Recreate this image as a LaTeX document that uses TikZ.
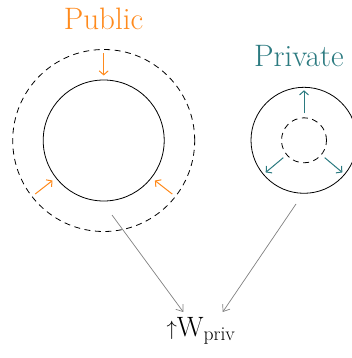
\documentclass[tikz,border=0pt]{standalone}
\usetikzlibrary{arrows.meta}
\definecolor{puborange}{HTML}{FF8A1C}
\definecolor{privteal}{HTML}{2B7A80}
\begin{document}
\begin{tikzpicture}[x=1pt,y=-1pt,
  ring/.style={circle,draw=black,line width=0.8pt,inner sep=0pt,outer sep=0pt},
  dashring/.style={ring,dash pattern=on 6pt off 4.5pt},
  puba/.style={draw=puborange,line width=1pt,-{Straight Barb[length=4pt,width=9pt]}},
  priva/.style={draw=privteal,line width=1pt,-{Straight Barb[length=4pt,width=9pt]}},
  feed/.style={draw=gray,line width=0.7pt,-{Straight Barb[length=6pt,width=9pt]}},
  titletext/.style={font=\fontsize{31}{31}\selectfont,inner sep=0pt}]
\useasboundingbox (0,0) rectangle (351,358);
% Public
\node[ring,minimum size=121pt] (pubin) at (103.7,140.5) {};
\node[dashring,minimum size=182pt] (pubout) at (103.7,140.5) {};
\node[titletext,text=puborange,anchor=base] (pubtitle) at (103.5,30) {Public};
\foreach \a in {90,218,322}{
  \draw[puba] ([shift={(\a:87pt)}]pubin.center) -- ([shift={(\a:65pt)}]pubin.center);
}
% Private
\node[ring,minimum size=106pt] (privout) at (304,140.3) {};
\node[dashring,minimum size=45pt] (privin) at (304,140.3) {};
\node[titletext,text=privteal,anchor=base west] (privtitle) at (254,66.7) {Private};
\foreach \a in {90,220,320}{
  \draw[priva] ([shift={(\a:27pt)}]privin.center) -- ([shift={(\a:50pt)}]privin.center);
}
% label
\node[inner sep=0pt,anchor=base,font=\fontsize{28}{28}\selectfont] (wlabel) at (201,336.7)
  {\raisebox{1pt}{\fontsize{20}{20}\selectfont$\uparrow$}W\textsubscript{priv}};
\coordinate (pubfeed) at (112,215);
\coordinate (privfeed) at (296,204);
\coordinate (pubend) at (183.3,312);
\coordinate (privend) at (222.7,312);
\draw[feed] (pubfeed) -- (pubend);
\draw[feed] (privfeed) -- (privend);
\end{tikzpicture}
\end{document}
